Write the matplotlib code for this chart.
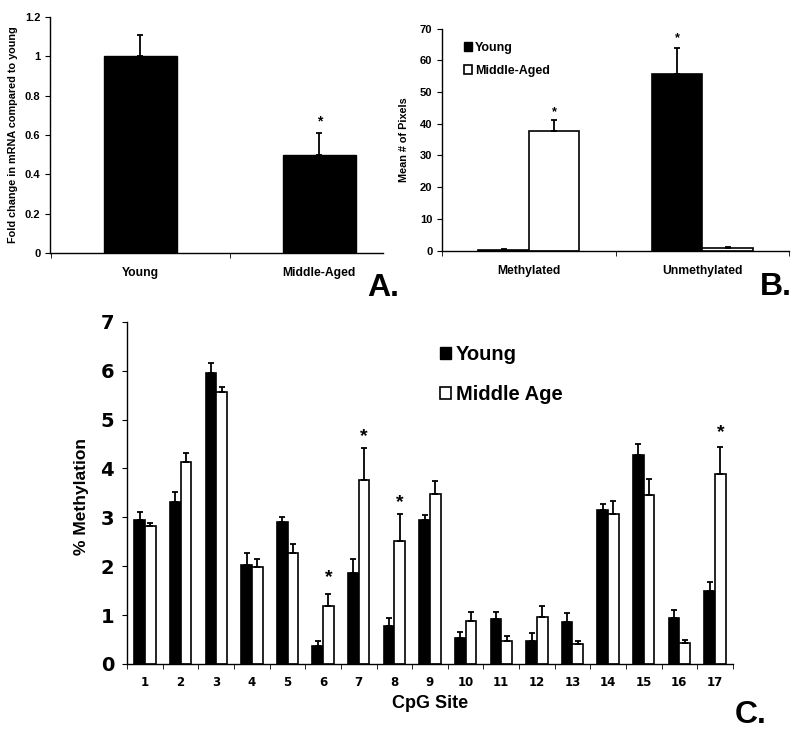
import numpy as np
import matplotlib.pyplot as plt
from matplotlib.patches import Patch

# Panel A: fold change in mRNA
A_GROUPS = ['Young', 'Middle-Aged']
A_VALUES = [1.0, 0.497]
A_ERR = [0.11, 0.113]
A_STAR = [None, 0.666]

# Panel B: mean # of pixels
B_GROUPS = ['Methylated', 'Unmethylated']
B_YOUNG = [0.3, 55.8]
B_YOUNG_ERR = [0.3, 8.1]
B_MIDDLE = [37.6, 0.85]
B_MIDDLE_ERR = [3.7, 0.35]
B_STAR_YOUNG = [None, 66.9]
B_STAR_MIDDLE = [43.5, None]

# Panel C: % methylation per CpG site
C_SITES = [str(i) for i in range(1, 18)]
C_YOUNG = [2.95, 3.31, 5.95, 2.02, 2.91, 0.36, 1.87, 0.77, 2.94,
           0.53, 0.92, 0.48, 0.85, 3.15, 4.27, 0.95, 1.49]
C_YOUNG_ERR = [0.15, 0.20, 0.20, 0.25, 0.10, 0.12, 0.28, 0.18, 0.10,
               0.12, 0.15, 0.15, 0.19, 0.13, 0.24, 0.16, 0.19]
C_MIDDLE = [2.82, 4.14, 5.56, 1.98, 2.27, 1.19, 3.76, 2.51, 3.48,
            0.87, 0.48, 0.97, 0.40, 3.07, 3.46, 0.43, 3.89]
C_MIDDLE_ERR = [0.06, 0.17, 0.11, 0.17, 0.18, 0.25, 0.66, 0.56, 0.27,
                0.20, 0.09, 0.22, 0.08, 0.26, 0.32, 0.07, 0.55]
C_STAR_SITES = [6, 7, 8, 17]
C_STAR_Y = [1.76, 4.66, 3.31, 4.74]

plt.rcParams['font.family'] = ['Liberation Sans', 'DejaVu Sans']
plt.rcParams['font.weight'] = 'bold'
plt.rcParams['axes.labelweight'] = 'bold'
plt.rcParams['axes.linewidth'] = 1.0

ERR_KW = dict(ecolor='black', elinewidth=1.3, capsize=2, capthick=1.3)


def style_ax(ax, n, ylim, yticks, tick_size):
    for s in ['top', 'right']:
        ax.spines[s].set_visible(False)
    ax.set_ylim(*ylim)
    ax.set_yticks(yticks)
    ax.set_xticks(range(n))
    ax.set_xticks(np.arange(-0.5, n, 1.0), minor=True)
    ax.tick_params(axis='x', which='major', length=0)
    ax.tick_params(axis='x', which='minor', length=3.5, direction='out')
    ax.tick_params(axis='y', length=3.5, direction='out', labelsize=tick_size)


fig = plt.figure(figsize=(8, 7.31), dpi=100)

# ---------------- Panel A ----------------
axA = fig.add_axes([0.0625, 0.654, 0.416, 0.323])
xa = np.arange(len(A_GROUPS))
axA.bar(xa, A_VALUES, width=0.41, color='black', edgecolor='black',
        yerr=[np.zeros(len(A_ERR)), A_ERR], error_kw=ERR_KW)
style_ax(axA, 2, (0, 1.2), [0, 0.2, 0.4, 0.6, 0.8, 1.0, 1.2], 8)
axA.set_yticklabels(['0', '0.2', '0.4', '0.6', '0.8', '1', '1.2'])
axA.set_xlim(-0.506, 1.355)
axA.set_xticks([-0.5, 0.5], minor=True)
axA.set_xticklabels(A_GROUPS, fontsize=8.7)
axA.tick_params(axis='x', which='major', pad=10)
axA.set_ylabel('Fold change in mRNA compared to young', fontsize=7.8)
axA.yaxis.set_label_coords(-0.095, 0.5)
for x, s in zip(xa, A_STAR):
    if s is not None:
        axA.text(x, s, '*', ha='center', va='center', fontsize=10)

# ---------------- Panel B ----------------
axB = fig.add_axes([0.5525, 0.657, 0.434, 0.304])
xb = np.arange(len(B_GROUPS))
w = 0.29
axB.bar(xb - w / 2, B_YOUNG, width=w, color='black', edgecolor='black',
        linewidth=1.2, yerr=[np.zeros(2), B_YOUNG_ERR], error_kw=ERR_KW)
axB.bar(xb + w / 2, B_MIDDLE, width=w, color='white', edgecolor='black',
        linewidth=1.2, yerr=[np.zeros(2), B_MIDDLE_ERR], error_kw=ERR_KW)
style_ax(axB, 2, (0, 70), range(0, 71, 10), 8)
axB.set_xlim(-0.5, 1.5)
axB.set_xticklabels(B_GROUPS, fontsize=8.7)
axB.tick_params(axis='x', which='major', pad=10)
axB.set_ylabel('Mean # of Pixels', fontsize=7.8)
axB.yaxis.set_label_coords(-0.095, 0.5)
for x, s in zip(xb, B_STAR_YOUNG):
    if s is not None:
        axB.text(x - w / 2, s, '*', ha='center', va='center', fontsize=9)
for x, s in zip(xb, B_STAR_MIDDLE):
    if s is not None:
        axB.text(x + w / 2, s, '*', ha='center', va='center', fontsize=9)
axB.legend(handles=[Patch(facecolor='black', edgecolor='black', label='Young'),
                    Patch(facecolor='white', edgecolor='black', linewidth=1.2,
                          label='Middle-Aged')],
           loc='upper left', bbox_to_anchor=(0.03, 0.99), frameon=False,
           fontsize=9, handlelength=0.7, handleheight=0.7,
           handletextpad=0.2, labelspacing=0.9)

# ---------------- Panel C ----------------
axC = fig.add_axes([0.159, 0.0917, 0.757, 0.468])
xc = np.arange(len(C_SITES))
wc = 0.3
axC.bar(xc - wc / 2, C_YOUNG, width=wc, color='black', edgecolor='black',
        linewidth=1.2, yerr=[np.zeros(len(xc)), C_YOUNG_ERR], error_kw=ERR_KW)
axC.bar(xc + wc / 2, C_MIDDLE, width=wc, color='white', edgecolor='black',
        linewidth=1.2, yerr=[np.zeros(len(xc)), C_MIDDLE_ERR], error_kw=ERR_KW)
style_ax(axC, len(C_SITES), (0, 7), range(0, 8), 14)
axC.set_xlim(-0.5, len(C_SITES) - 0.5)
axC.set_xticklabels(C_SITES, fontsize=8.5, family='DejaVu Sans')
axC.set_yticklabels([str(v) for v in range(8)], family='DejaVu Sans')
axC.tick_params(axis='x', which='major', pad=9)
axC.tick_params(axis='y', pad=6)
axC.set_xlabel('CpG Site', fontsize=13)
axC.set_ylabel('% Methylation', fontsize=12.5)
axC.yaxis.set_label_coords(-0.063, 0.49)
for site, s in zip(C_STAR_SITES, C_STAR_Y):
    axC.text(site - 1 + wc / 2, s, '*', ha='center', va='center', fontsize=14)
axC.legend(handles=[Patch(facecolor='black', edgecolor='black', label='Young'),
                    Patch(facecolor='white', edgecolor='black', linewidth=1.2,
                          label='Middle Age')],
           loc='upper left', bbox_to_anchor=(0.486, 0.985), frameon=False,
           fontsize=14.5, handlelength=0.55, handleheight=0.55,
           handletextpad=0.25, labelspacing=1.05)

# panel letters
fig.text(0.459, 0.595, 'A.', fontsize=23, ha='left', va='baseline')
fig.text(0.950, 0.596, 'B.', fontsize=23, ha='left', va='baseline')
fig.text(0.919, 0.011, 'C.', fontsize=23, ha='left', va='baseline')

fig.savefig('out.png', dpi=100)
